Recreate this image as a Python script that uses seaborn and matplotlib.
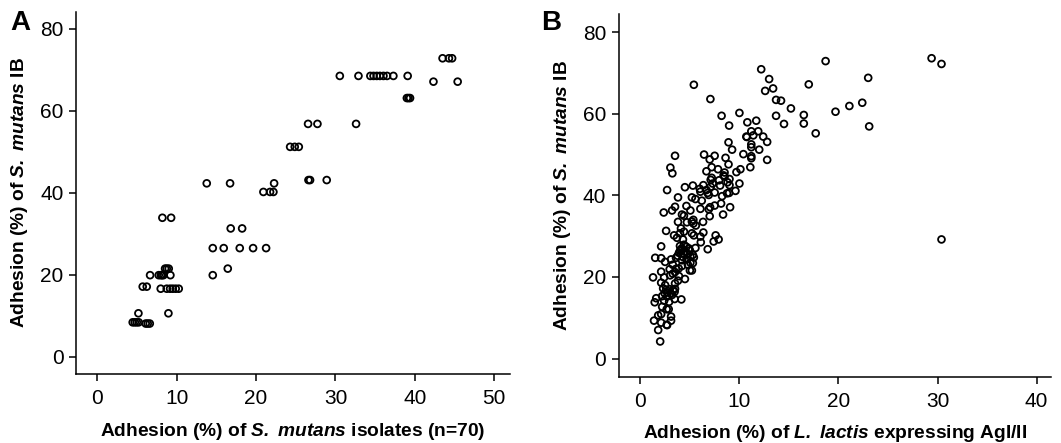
import numpy as np
import pandas as pd
import matplotlib
matplotlib.use("Agg")
import matplotlib.pyplot as plt
import seaborn as sns

sns.set_theme(style="ticks")
plt.rcParams["font.family"] = ["Liberation Sans", "DejaVu Sans"]
plt.rcParams["mathtext.fontset"] = "custom"
plt.rcParams["mathtext.bfit"] = "Liberation Sans:bold:italic"
plt.rcParams["mathtext.it"] = "Liberation Sans:italic"
plt.rcParams["mathtext.rm"] = "Liberation Sans"
for k in ["text.color", "axes.labelcolor", "xtick.color", "ytick.color"]:
    plt.rcParams[k] = "black"

# Panel A: S. mutans isolates (n=70)
isolates_x = [4.45, 4.71, 4.96, 5.21, 5.17, 6.09, 6.34, 6.6, 5.71, 6.22,
              6.64, 7.73, 8.0, 8.15, 8.32, 9.2, 14.54,
              8.53, 8.74, 8.99, 16.43,
              7.98, 8.74, 9.16, 9.5, 9.87, 10.25,
              8.19, 9.29, 8.95,
              13.78, 16.72, 22.27, 20.92, 21.76, 22.18,
              16.8, 18.24, 14.54, 15.92, 17.94, 19.62, 21.26,
              24.29, 24.87, 25.38, 26.55, 27.73, 32.6, 26.6, 26.8, 28.9,
              30.55, 32.9, 34.4, 34.8, 35.2, 35.6, 36.05, 36.5, 37.3, 39.1,
              39.0, 39.2, 39.4, 42.35, 45.4, 43.5, 44.3, 44.7]
isolates_y = [8.4, 8.4, 8.4, 8.4, 10.6, 8.1, 8.1, 8.1, 17.1, 17.1,
              19.9, 19.9, 19.9, 19.9, 19.9, 19.9, 19.9,
              21.5, 21.5, 21.5, 21.5,
              16.6, 16.6, 16.6, 16.6, 16.6, 16.6,
              33.9, 33.9, 10.6,
              42.3, 42.3, 42.3, 40.2, 40.2, 40.2,
              31.3, 31.3, 26.5, 26.5, 26.5, 26.5, 26.5,
              51.2, 51.2, 51.2, 56.8, 56.8, 56.8, 43.1, 43.1, 43.1,
              68.5, 68.5, 68.5, 68.5, 68.5, 68.5, 68.5, 68.5, 68.5, 68.5,
              63.1, 63.1, 63.1, 67.1, 67.1, 72.8, 72.8, 72.8]

# Panel B: L. lactis expressing AgI/II
lactis_x = [29.4, 30.4, 30.4, 18.7, 12.2, 13.0, 23.0, 5.4, 17.0, 13.4,
            12.6, 7.07, 13.7, 14.2, 22.4, 21.1, 15.2, 19.7, 10.0, 8.2,
            13.7, 16.5, 16.5, 14.5, 23.1, 8.96, 10.8, 11.7, 17.7, 11.9,
            11.2, 11.4, 10.7, 10.75, 12.4, 12.8, 8.9, 11.2, 11.2, 12.0,
            9.26, 10.4, 11.2, 11.2, 12.8, 11.1, 6.43, 7.5, 7.0, 8.6,
            8.9, 7.2, 7.84, 6.67, 9.7, 10.1, 8.5, 8.5, 7.2, 7.1,
            7.95, 9.0, 8.8, 10.0, 7.3, 8.05, 9.0, 6.36, 5.3, 4.5,
            6.0, 6.67, 6.8, 7.5, 6.06, 9.6, 8.75, 8.96, 8.25, 5.56,
            5.2, 3.8, 9.06, 8.15, 7.5, 7.04, 6.9, 4.65, 5.05, 3.5,
            3.2, 2.36, 6.06, 8.35, 7.0, 4.4, 4.2, 3.8, 5.35, 5.2,
            6.33, 5.35, 2.6, 4.1, 4.4, 4.0, 5.2, 6.36, 3.4, 3.7,
            5.4, 7.6, 6.06, 7.4, 7.9, 6.1, 4.3, 6.8, 2.1, 4.0,
            4.2, 4.65, 4.9, 5.56, 4.0, 4.35, 4.75, 5.3, 5.05, 3.77,
            1.5, 2.1, 3.1, 3.6, 4.2, 4.65, 5.4, 5.05, 2.5, 3.27,
            4.2, 3.87, 5.0, 5.2, 2.1, 2.96, 3.5, 3.27, 3.9, 4.5,
            1.28, 2.4, 3.8, 2.1, 3.5, 2.3, 2.6, 2.96, 3.3, 3.5,
            2.45, 2.76, 3.06, 3.46, 2.2, 2.7, 3.46, 4.14, 1.6, 1.45,
            2.9, 2.4, 2.2, 2.66, 2.86, 2.1, 1.8, 3.1, 3.1, 1.38,
            2.1, 2.7, 1.8, 2.0, 2.66,
            4.1, 4.4, 4.6, 5.0, 4.3, 3.9, 5.3, 4.8, 3.6, 3.0,
            2.5, 3.2, 4.7, 5.6, 6.9, 7.1, 8.4, 6.2,
            3.03, 3.23, 3.5, 2.7]
lactis_y = [73.6, 72.2, 29.2, 72.9, 70.9, 68.5, 68.8, 67.1, 67.2, 66.2,
            65.6, 63.6, 63.4, 63.2, 62.7, 61.9, 61.3, 60.5, 60.2, 59.5,
            59.5, 59.7, 57.6, 57.5, 56.9, 57.1, 57.9, 58.3, 55.2, 55.7,
            55.7, 54.7, 54.4, 54.3, 54.4, 53.1, 53.0, 52.5, 51.8, 51.2,
            51.2, 50.1, 49.6, 49.1, 48.7, 46.9, 50.0, 49.7, 48.8, 49.2,
            47.6, 46.9, 46.4, 45.9, 45.7, 46.4, 45.6, 44.6, 44.3, 43.8,
            43.7, 44.0, 43.2, 42.9, 42.9, 42.4, 42.5, 42.5, 42.4, 42.0,
            41.6, 41.3, 40.6, 40.7, 40.9, 41.1, 40.5, 40.6, 39.8, 39.1,
            39.5, 39.5, 37.1, 38.0, 37.5, 37.1, 36.6, 37.4, 36.3, 37.2,
            36.3, 35.8, 36.7, 35.3, 34.9, 35.0, 35.3, 33.5, 34.0, 33.6,
            33.5, 33.1, 31.3, 31.9, 31.1, 30.7, 30.7, 30.9, 30.2, 29.6,
            30.2, 30.2, 29.9, 28.7, 29.2, 28.5, 29.2, 26.8, 27.5, 27.6,
            27.0, 27.4, 27.0, 27.1, 26.4, 25.8, 25.6, 25.4, 25.0, 25.2,
            24.7, 24.6, 24.3, 24.7, 24.1, 24.3, 24.8, 23.5, 23.7, 23.0,
            22.7, 22.1, 21.6, 21.6, 21.3, 21.9, 21.2, 20.8, 20.2, 19.5,
            19.9, 19.9, 19.1, 18.6, 18.4, 17.2, 16.9, 17.0, 16.8, 17.1,
            16.0, 16.2, 16.0, 16.4, 15.3, 15.2, 14.6, 14.5, 14.8, 13.8,
            13.9, 14.2, 12.7, 12.1, 12.1, 10.9, 10.6, 10.3, 9.3, 9.3,
            8.8, 8.2, 7.0, 4.2, 8.3,
            26.8, 27.9, 26.1, 26.5, 24.9, 25.9, 23.4, 23.0, 22.0, 20.4,
            18.0, 15.6, 33.4, 32.6, 40.1, 42.1, 44.9, 38.7,
            46.8, 45.4, 49.7, 41.3]

df_a = pd.DataFrame({"x": isolates_x, "y": isolates_y})
df_b = pd.DataFrame({"x": lactis_x, "y": lactis_y})

fig = plt.figure(figsize=(10.61, 4.43), dpi=100)
ax_a = fig.add_axes([0.0716, 0.1558, 0.4091, 0.8172])
ax_b = fig.add_axes([0.583, 0.150, 0.408, 0.818])

ylab = r"Adhesion (%) of $\mathbfit{S.}$ $\mathbfit{mutans}$ IB"
panels = [
    (ax_a, df_a, (-2.7, 52.0), (-4.2, 84.1), [0, 10, 20, 30, 40, 50],
     r"Adhesion (%) of $\mathbfit{S.}$ $\mathbfit{mutans}$ isolates (n=70)"),
    (ax_b, df_b, (-2.2, 41.5), (-4.4, 84.4), [0, 10, 20, 30, 40],
     r"Adhesion (%) of $\mathbfit{L.}$ $\mathbfit{lactis}$ expressing AgI/II"),
]

for ax, df, xl, yl, xt, xlab in panels:
    sns.scatterplot(data=df, x="x", y="y", ax=ax, marker="o", s=24,
                    facecolors="none", edgecolor="black", linewidth=1.3)
    ax.set_xlim(*xl)
    ax.set_ylim(*yl)
    ax.set_xticks(xt)
    ax.set_yticks([0, 20, 40, 60, 80])
    ax.set_xlabel(xlab, fontsize=13.8, fontweight="bold", labelpad=9)
    ax.set_ylabel(ylab, fontsize=13.8, fontweight="bold", labelpad=7)
    ax.tick_params(labelsize=15, length=5, width=1.1, color="black")
    ax.tick_params(axis="y", pad=4)
    ax.tick_params(axis="x", pad=6)
    for s in ["left", "bottom"]:
        ax.spines[s].set_linewidth(1.1)
        ax.spines[s].set_color("black")
    sns.despine(ax=ax)

fig.text(0.010, 0.978, "A", fontsize=20, fontweight="bold", va="top")
fig.text(0.510, 0.978, "B", fontsize=20, fontweight="bold", va="top")

fig.savefig("out.png", dpi=100)
